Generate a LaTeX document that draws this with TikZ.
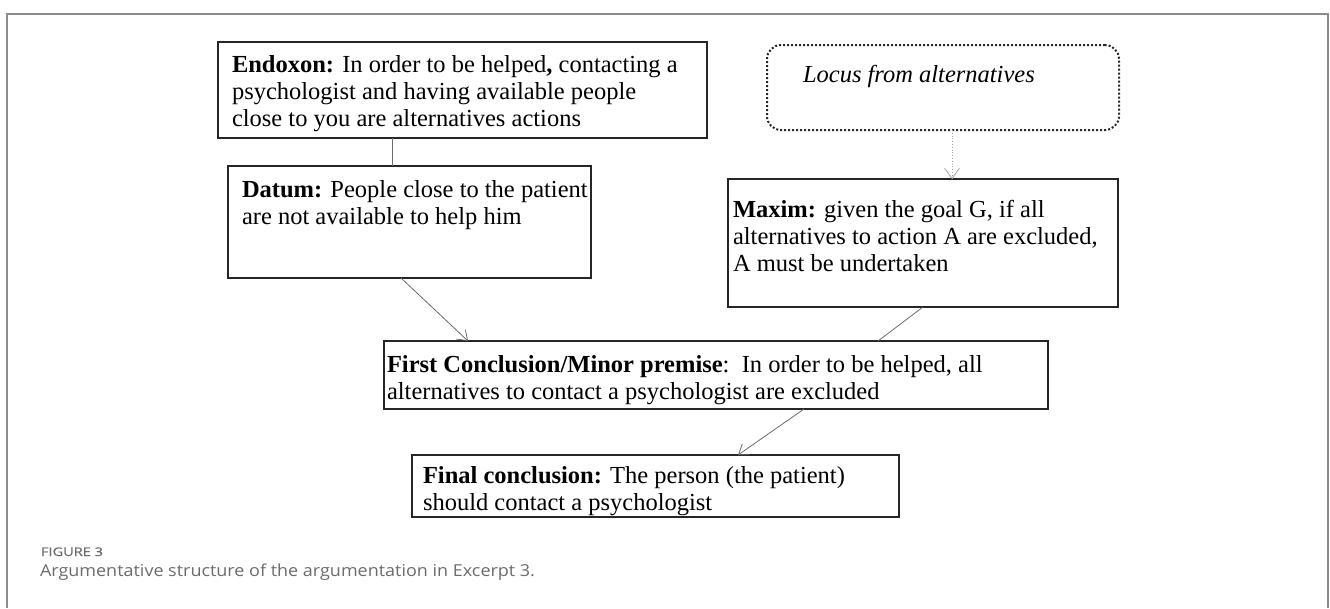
\documentclass[tikz,border=0pt]{standalone}
\usepackage{graphicx}
\usepackage{fontspec}
\setmainfont{Liberation Serif}
\newfontfamily\capfont{Open Sans}
\newfontfamily\caplabelfont[FakeBold=0.6]{Open Sans}
\usetikzlibrary{arrows.meta,calc}
\definecolor{framegray}{HTML}{8C8C8C}
\definecolor{linegray}{HTML}{6A6A6A}
\definecolor{capgray}{HTML}{6B6B6B}
\begin{document}
\begin{tikzpicture}[x=1pt,y=-1pt,
  boxnode/.style={draw=black!85, line width=1.6pt, rectangle, inner sep=0pt, outer sep=0pt},
  locusbox/.style={draw=black!85, line width=2pt, dotted, rounded corners=14pt, rectangle, inner sep=0pt, outer sep=0pt},
  txt/.style={anchor=base west, inner sep=0pt, outer sep=0pt, align=left, font=\fontsize{24.5}{27}\selectfont},
  conn/.style={draw=linegray, line width=0.8pt},
  arr/.style={conn, -{Straight Barb[length=9pt, width=13pt, line width=0.8pt]}},
  dotarr/.style={draw=black!35, line width=0.8pt, dotted, -{Straight Barb[length=10pt, width=15pt, line width=0.8pt, sep=0pt]}},
  captxt/.style={anchor=base west, inner sep=0pt, outer sep=0pt, text=capgray}
]
\useasboundingbox (0,0) rectangle (1330,608);
% outer frame
\draw[framegray, line width=2.2pt] (7,608) -- (7,14) -- (1328,14) -- (1328,608);

% boxes
\node[boxnode, minimum width=489pt, minimum height=96pt] (endoxon) at (462.5,90) {};
\node[boxnode, minimum width=363pt, minimum height=112pt] (datum) at (409.5,222) {};
\node[locusbox, minimum width=352pt, minimum height=85pt] (locus) at (943,87.5) {};
\node[boxnode, minimum width=390pt, minimum height=128pt] (maxim) at (923,243) {};
\node[boxnode, minimum width=664pt, minimum height=68pt] (first) at (716,375) {};
\node[boxnode, minimum width=487pt, minimum height=62pt] (final) at (655.5,486) {};

% texts (anchored at the baseline of the last line)
\node[txt] (tendoxon) at (232,126) {\textbf{Endoxon:} In order to be helped\textbf{,} contacting a\\psychologist and having available people\\close to you are alternatives actions};
\node[txt] (tdatum) at (242,224) {\textbf{Datum:} People close to the patient\\are not available to help him};
\node[txt] (tlocus) at (803,82) {\itshape Locus from alternatives};
\node[txt] (tmaxim) at (733,271) {\textbf{Maxim:} given the goal G, if all\\alternatives to action A are excluded,\\A must be undertaken};
\node[txt] (tfirst) at (387,399) {\textbf{First Conclusion/Minor premise}:\ \ In order to be helped, all\\alternatives to contact a psychologist are excluded};
\node[txt] (tfinal) at (423,510) {\textbf{Final conclusion:} The person (the patient)\\should contact a psychologist};

% connectors
\draw[conn] ([xshift=-70.5pt]endoxon.south) -- ([xshift=-70.5pt]endoxon.south |- datum.north);
\draw[dotarr] ([xshift=9pt]locus.south) -- ([xshift=9pt]locus.south |- maxim.north);
\draw[arr] ([xshift=-8.5pt]datum.south) -- ([xshift=-248pt]first.north);
\draw[conn] (maxim.south) -- ([xshift=162pt]first.north);
\draw[arr] ([xshift=88pt]first.south) -- ([xshift=82.5pt]final.north);

% caption
\node[captxt] (figlabel) at (41,556) {\resizebox{62pt}{8.6pt}{\caplabelfont FIGURE 3}};
\node[captxt] (figcaption) at (40,576) {\resizebox{495pt}{12.6pt}{\capfont Argumentative structure of the argumentation in Excerpt 3.}};
\end{tikzpicture}
\end{document}
